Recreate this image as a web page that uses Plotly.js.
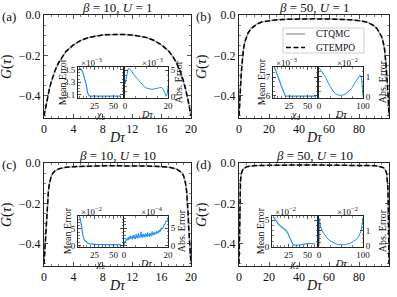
<!DOCTYPE html>
<html><head><meta charset="utf-8">
<script src="https://cdn.plot.ly/plotly-3.0.1.min.js"></script>
<style>html,body{margin:0;padding:0;background:#fff}#plot{width:397px;height:297px}</style>
</head><body><div id="plot"></div>
<script>
// ---------- data ----------
// (a) beta=10, U=1
const tauA = [0,0.25,0.5,0.75,1,1.5,2,2.5,3,4,5,6,7,8,9,10,11,12,13,14,15,16,17,17.5,18,18.5,19,19.25,19.5,19.75,20];
const gA_ctqmc = [-0.500,-0.450,-0.405,-0.364,-0.330,-0.276,-0.236,-0.205,-0.180,-0.149,-0.127,-0.113,-0.104,-0.099,-0.097,-0.096,-0.097,-0.099,-0.104,-0.113,-0.127,-0.149,-0.180,-0.205,-0.236,-0.276,-0.330,-0.364,-0.405,-0.450,-0.500];
const gA_gtempo = [-0.500,-0.449,-0.404,-0.363,-0.329,-0.275,-0.235,-0.204,-0.180,-0.148,-0.126,-0.112,-0.104,-0.099,-0.097,-0.096,-0.097,-0.099,-0.104,-0.112,-0.126,-0.148,-0.180,-0.204,-0.235,-0.275,-0.329,-0.363,-0.404,-0.449,-0.500];
// (b) beta=50, U=1
const tauB = [0,0.5,1,1.5,2,3,4,5,6,8,10,12,15,20,25,30,40,50,60,70,75,80,85,88,90,92,94,95,96,97,98,98.5,99,99.5,100];
const gB_ctqmc = [-0.500,-0.410,-0.345,-0.290,-0.245,-0.168,-0.130,-0.105,-0.089,-0.067,-0.053,-0.044,-0.034,-0.027,-0.023,-0.021,-0.019,-0.018,-0.019,-0.021,-0.023,-0.027,-0.034,-0.044,-0.053,-0.067,-0.089,-0.105,-0.130,-0.168,-0.245,-0.290,-0.345,-0.410,-0.500];
const gB_gtempo = [-0.500,-0.409,-0.344,-0.289,-0.244,-0.168,-0.131,-0.106,-0.090,-0.068,-0.054,-0.045,-0.035,-0.028,-0.024,-0.022,-0.020,-0.019,-0.020,-0.022,-0.024,-0.028,-0.035,-0.045,-0.054,-0.068,-0.090,-0.106,-0.131,-0.168,-0.244,-0.289,-0.344,-0.409,-0.500];
// (c) beta=10, U=10
const tauC = [0,0.05,0.1,0.2,0.3,0.4,0.5,0.6,0.75,1,1.25,1.5,2,3,4,6,8,10,12,14,16,17,18,18.5,18.75,19,19.25,19.4,19.5,19.6,19.7,19.8,19.9,19.95,20];
const gC_ctqmc = [-0.500,-0.470,-0.440,-0.385,-0.330,-0.250,-0.185,-0.140,-0.100,-0.064,-0.048,-0.039,-0.029,-0.021,-0.018,-0.015,-0.014,-0.014,-0.014,-0.015,-0.018,-0.021,-0.029,-0.039,-0.048,-0.064,-0.100,-0.140,-0.185,-0.250,-0.330,-0.385,-0.440,-0.470,-0.500];
const gC_gtempo = [-0.500,-0.469,-0.438,-0.383,-0.328,-0.248,-0.184,-0.139,-0.099,-0.064,-0.048,-0.039,-0.029,-0.021,-0.018,-0.015,-0.014,-0.014,-0.014,-0.015,-0.018,-0.021,-0.029,-0.039,-0.048,-0.064,-0.099,-0.139,-0.184,-0.248,-0.328,-0.383,-0.438,-0.469,-0.500];
// (d) beta=50, U=10
const tauD = [0,0.25,0.5,0.75,1,1.5,2,3,4,5,6,8,10,15,20,30,40,50,60,70,80,85,90,92,94,95,96,97,98,98.5,99,99.25,99.5,99.75,100];
const gD_ctqmc = [-0.500,-0.330,-0.200,-0.125,-0.088,-0.056,-0.041,-0.028,-0.022,-0.019,-0.017,-0.015,-0.013,-0.012,-0.011,-0.010,-0.010,-0.010,-0.010,-0.010,-0.011,-0.012,-0.013,-0.015,-0.017,-0.019,-0.022,-0.028,-0.041,-0.056,-0.088,-0.125,-0.200,-0.330,-0.500];
const gD_gtempo = [-0.500,-0.328,-0.199,-0.124,-0.087,-0.056,-0.041,-0.028,-0.022,-0.019,-0.017,-0.015,-0.013,-0.012,-0.011,-0.010,-0.010,-0.010,-0.010,-0.010,-0.011,-0.012,-0.013,-0.015,-0.017,-0.019,-0.022,-0.028,-0.041,-0.056,-0.087,-0.124,-0.199,-0.328,-0.500];

// insets: mean error vs chi2
const chi = [6,8,10,12,14,16,18,20,24,28,32,36,40,44,48,52,56,60];
const meanA = [3.52,3.50,3.445,3.37,3.27,3.13,3.085,3.08,3.079,3.08,3.079,3.079,3.08,3.079,3.079,3.08,3.079,3.079]; // x1e-3
const meanB = [7.47,7.28,7.06,6.82,6.58,6.35,6.12,6.00,5.99,5.99,5.99,5.99,5.99,5.99,5.99,5.99,5.99,5.99]; // x1e-3
const meanC = [8.5,5.3,2.8,1.5,1.05,0.75,0.55,0.45,0.35,0.30,0.26,0.24,0.22,0.21,0.20,0.19,0.19,0.18]; // x1e-2
const chiD = [6,8,10,12,14,16,18,20,22,24,26,28,30,32,34,36,40,44,48,52,56,60];
const meanD = [5.5,5.0,4.6,4.2,3.95,3.75,3.55,3.3,3.0,2.6,2.05,1.3,0.6,0.3,0.25,0.25,0.3,0.4,0.5,0.56,0.55,0.45]; // x1e-2

// insets: abs error vs D tau
const tauEA = [0,0.5,1,1.5,2,2.5,3,4,5,6,7,8,9,10,11,12,13,14,15,16,16.5,17,17.5,18,18.5,19,19.25,19.5,19.75,20];
const absA = [2.4,3.6,4.7,5.25,5.35,5.2,4.9,4.2,3.7,3.2,2.7,2.25,1.9,1.65,1.5,1.45,1.45,1.5,1.6,1.75,1.8,1.75,1.6,1.3,0.8,0.3,0.1,0.4,1.0,1.8]; // x1e-3
const tauEB = [0,2,5,10,15,20,25,30,35,40,45,50,55,60,65,70,75,80,85,88,90,92,94,96,97,98,99,100];
const absB = [1.40,1.38,1.30,1.15,0.95,0.72,0.52,0.34,0.20,0.11,0.07,0.06,0.08,0.13,0.21,0.32,0.45,0.62,0.80,0.92,0.99,1.04,1.05,1.00,0.90,0.65,0.30,0.00]; // x1e-2
const tauEC = [0,0.25,0.5,0.75,1,1.25,1.5,1.75,2,2.25,2.5,2.75,3,3.25,3.5,3.75,4,4.25,4.5,4.75,5,5.25,5.5,5.75,6,6.25,6.5,6.75,7,7.25,7.5,7.75,8,8.25,8.5,8.75,9,9.25,9.5,9.75,10,10.25,10.5,10.75,11,11.25,11.5,11.75,12,12.25,12.5,12.75,13,13.25,13.5,13.75,14,14.25,14.5,14.75,15,15.25,15.5,15.75,16,16.25,16.5,16.75,17,17.25,17.5,17.75,18,18.25,18.5,18.75,19,19.25,19.5,19.75,20];
const absC = [0.1,0.6,1.3,0.9,1.8,1.4,2.2,1.6,2.4,1.7,2.6,1.9,2.8,2.0,2.5,1.8,2.9,2.2,3.1,2.0,2.6,1.9,3.3,2.3,2.7,2.1,3.6,2.4,2.9,2.2,3.0,4.0,2.5,3.2,2.3,3.4,2.6,3.1,2.4,3.5,2.7,3.3,2.5,3.8,2.8,3.2,2.6,3.6,2.9,3.4,2.8,4.1,3.0,3.6,3.1,3.9,3.2,3.7,3.3,4.2,3.5,4.0,3.6,4.4,3.9,4.5,4.1,4.9,4.5,5.2,4.8,5.6,5.3,6.1,5.9,6.7,6.6,7.4,7.2,7.9,8.2]; // x1e-4
const tauED = [0,1,2,4,6,10,15,20,25,30,35,40,45,50,55,60,65,70,75,80,85,90,93,95,97,98,99,100];
const absD = [0.0,1.80,1.55,1.25,1.05,0.85,0.62,0.46,0.34,0.25,0.18,0.12,0.09,0.07,0.07,0.09,0.12,0.17,0.24,0.32,0.43,0.60,0.78,0.95,1.20,1.40,1.65,1.90]; // x1e-2

const titles = ['<i>β</i> = 10, <i>U</i> = 1','<i>β</i> = 50, <i>U</i> = 1','<i>β</i> = 10, <i>U</i> = 10','<i>β</i> = 50, <i>U</i> = 10'];
const panelLabels = ['(a)','(b)','(c)','(d)'];
const exps1 = ['×10<sup>−3</sup>','×10<sup>−3</sup>','×10<sup>−2</sup>','×10<sup>−2</sup>'];
const exps2 = ['×10<sup>−3</sup>','×10<sup>−2</sup>','×10<sup>−4</sup>','×10<sup>−2</sup>'];
const seriesNames = ['CTQMC','GTEMPO'];

// ---------- layout helpers ----------
const W = 397, H = 297;
const fx = p => p / W;
const fy = p => 1 - p / H;
const FONT = 'Liberation Serif, Times New Roman, serif';
const AX = '#262626';
const CT = '#a3a3a3', GT = '#000000', BL = '#1f8fff';

function ax(opts) {
  return Object.assign({
    showline: true, linecolor: AX, linewidth: 1, mirror: 'ticks',
    ticks: 'inside', ticklen: 4, tickwidth: 0.8, tickcolor: AX,
    showgrid: false, zeroline: false, fixedrange: true,
    tickfont: {family: FONT, size: 12, color: '#111'}
  }, opts);
}
function inAx(opts) {
  return ax(Object.assign({ticklen: 3, tickfont: {family: FONT, size: 9, color: '#111'}}, opts));
}
function note(text, px, py, extra) {
  return Object.assign({text: text, x: fx(px), y: fy(py), xref: 'paper', yref: 'paper',
    xanchor: 'center', yanchor: 'middle', showarrow: false, font: {size: 10}}, extra || {});
}

const mains = [
  {x:[44,191], y:[15,118], xr:[0,20], dt:4, mn:1, tau:tauA, ct:gA_ctqmc, gt:gA_gtempo},
  {x:[239,389], y:[15,118], xr:[0,100], dt:20, mn:5, tau:tauB, ct:gB_ctqmc, gt:gB_gtempo},
  {x:[44,191], y:[163,266], xr:[0,20], dt:4, mn:1, tau:tauC, ct:gC_ctqmc, gt:gC_gtempo},
  {x:[239,389], y:[163,266], xr:[0,100], dt:20, mn:5, tau:tauD, ct:gD_ctqmc, gt:gD_gtempo}
];
const insets = [
  {x1:[78,123], x2:[125,168], y:[67,97.5], c:chi, m:meanA, y1:[3.058,3.542], d1:0.2, t01:3.1, f1:'.1f', mn1:0.05,
   t:tauEA, a:absA, xr2:[0,20], y2:[-0.1,5.6], d2:5, mn2:1, meanLab:62, absLab:178},
  {x1:[273,317], x2:[319,363], y:[67,97.5], c:chi, m:meanB, y1:[5.916,7.544], d1:1, t01:0, f1:'', mn1:0.25,
   t:tauEB, a:absB, xr2:[0,100], y2:[-0.04,1.47], d2:1, mn2:0.25, meanLab:261, absLab:382},
  {x1:[78,123], x2:[124,168], y:[216,246.5], c:chi, m:meanC, y1:[-0.32,8.92], d1:5, t01:0, f1:'', mn1:1,
   t:tauEC, a:absC, xr2:[0,20], y2:[-0.3,8.6], d2:5, mn2:1, meanLab:67, absLab:181},
  {x1:[272,317], x2:[319,363], y:[216,246.5], c:chiD, m:meanD, y1:[-0.02,5.8], d1:5, t01:0, f1:'', mn1:1,
   t:tauED, a:absD, xr2:[0,100], y2:[-0.04,1.98], d2:1, mn2:0.25, meanLab:260, absLab:382}
];

const data = [];
const layout = {
  width: W, height: H, margin: {l:0, r:0, t:0, b:0}, autosize: false,
  paper_bgcolor: '#fff', plot_bgcolor: '#fff',
  font: {family: FONT, color: '#111'},
  showlegend: false,
  annotations: [], shapes: []
};

mains.forEach((p, i) => {
  const n = i + 1, xs = n === 1 ? '' : n, ys = n === 1 ? '' : n;
  layout['xaxis' + xs] = ax({domain:[fx(p.x[0]), fx(p.x[1])], anchor:'y' + ys, range:p.xr,
    tickmode:'linear', tick0:0, dtick:p.dt, minor:{ticks:'inside', ticklen:2, dtick:p.mn, tick0:0, tickcolor:AX, tickwidth:0.6}});
  layout['yaxis' + ys] = ax({domain:[fy(p.y[1]), fy(p.y[0])], anchor:'x' + xs, range:[-0.51, 0],
    tickmode:'linear', tick0:0, dtick:0.2, tickformat:'.1f',
    minor:{ticks:'inside', ticklen:2, dtick:0.05, tick0:0, tickcolor:AX, tickwidth:0.6}});
  data.push({x:p.tau, y:p.ct, xaxis:'x' + xs, yaxis:'y' + ys, mode:'lines', name:seriesNames[0],
    line:{color:CT, width:1.5}});
  data.push({x:p.tau, y:p.gt, xaxis:'x' + xs, yaxis:'y' + ys, mode:'lines', name:seriesNames[1],
    line:{color:GT, width:1.5, dash:'5px,2.5px'}});
  const cx = (p.x[0] + p.x[1]) / 2;
  layout.annotations.push(
    note(titles[i], cx, p.y[0] - 8, {font:{size:13}}),
    note(panelLabels[i], p.x[0] - 35.5, p.y[0] + 1.5, {font:{size:13}}),
    note('<i>G</i>(<i>τ</i>)', p.x[0] - 37, p.y[0] + 52, {textangle:-90, font:{size:14}}),
    note('<i>Dτ</i>', cx, p.y[1] + 19, {font:{size:14}})
  );
});

// legend of panel (b), drawn as a framed key
const LG = {x0:283, x1:364, y0:28, y1:53};
layout.shapes.push({type:'rect', xref:'paper', yref:'paper', x0:fx(LG.x0), x1:fx(LG.x1), y0:fy(LG.y1), y1:fy(LG.y0),
  line:{color:'#cfcfcf', width:1}, fillcolor:'rgba(255,255,255,0.9)', layer:'above'});
layout.shapes.push({type:'line', xref:'paper', yref:'paper', x0:fx(286), x1:fx(305), y0:fy(34), y1:fy(34),
  line:{color:CT, width:1.5}, layer:'above'});
layout.shapes.push({type:'line', xref:'paper', yref:'paper', x0:fx(286), x1:fx(305), y0:fy(47.5), y1:fy(47.5),
  line:{color:GT, width:1.5, dash:'5px,2.5px'}, layer:'above'});
layout.annotations.push(
  note(seriesNames[0], 314, 34, {xanchor:'left', font:{size:9.5}}),
  note(seriesNames[1], 314, 47.5, {xanchor:'left', font:{size:9.5}})
);

insets.forEach((q, i) => {
  const n1 = 5 + 2 * i, n2 = 6 + 2 * i;
  layout['xaxis' + n1] = inAx({domain:[fx(q.x1[0]), fx(q.x1[1])], anchor:'y' + n1, range:[3.3, 62.7],
    tickmode:'linear', tick0:0, dtick:25, minor:{ticks:'inside', ticklen:1.5, dtick:5, tick0:0, tickcolor:AX, tickwidth:0.6}});
  layout['yaxis' + n1] = inAx({domain:[fy(q.y[1]), fy(q.y[0])], anchor:'x' + n1, range:q.y1,
    tickmode:'linear', tick0:q.t01, dtick:q.d1, tickformat:q.f1,
    minor:{ticks:'inside', ticklen:1.5, dtick:q.mn1, tick0:0, tickcolor:AX, tickwidth:0.6}});
  layout['xaxis' + n2] = inAx({domain:[fx(q.x2[0]), fx(q.x2[1])], anchor:'y' + n2, range:q.xr2,
    tickmode:'linear', tick0:0, dtick:q.xr2[1], minor:{ticks:'inside', ticklen:1.5, dtick:q.xr2[1] / 4, tick0:0, tickcolor:AX, tickwidth:0.6}});
  layout['yaxis' + n2] = inAx({domain:[fy(q.y[1]), fy(q.y[0])], anchor:'x' + n2, range:q.y2, side:'right',
    tickmode:'linear', tick0:0, dtick:q.d2,
    minor:{ticks:'inside', ticklen:1.5, dtick:q.mn2, tick0:0, tickcolor:AX, tickwidth:0.6}});
  data.push({x:q.c, y:q.m, xaxis:'x' + n1, yaxis:'y' + n1, mode:'lines', line:{color:BL, width:1.2}});
  data.push({x:q.t, y:q.a, xaxis:'x' + n2, yaxis:'y' + n2, mode:'lines', line:{color:BL, width:1.0}});
  const c1 = (q.x1[0] + q.x1[1]) / 2, c2 = (q.x2[0] + q.x2[1]) / 2, cy = (q.y[0] + q.y[1]) / 2;
  layout.annotations.push(
    note(exps1[i], q.x1[0] + 1, q.y[0] - 5, {xanchor:'left', font:{size:9}}),
    note(exps2[i], q.x2[1] - 3, q.y[0] - 5, {xanchor:'right', font:{size:9}}),
    note('Mean Error', q.meanLab, cy, {textangle:-90, font:{size:10}}),
    note('Abs. Error', q.absLab, cy, {textangle:-90, font:{size:10}}),
    note('<i>χ</i><sub>2</sub>', c1, q.y[1] + 17.5, {font:{size:10}}),
    note('<i>Dτ</i>', c2, q.y[1] + 16.5, {font:{size:10}})
  );
});

Plotly.newPlot('plot', data, layout, {staticPlot: true, displayModeBar: false});
</script></body></html>
